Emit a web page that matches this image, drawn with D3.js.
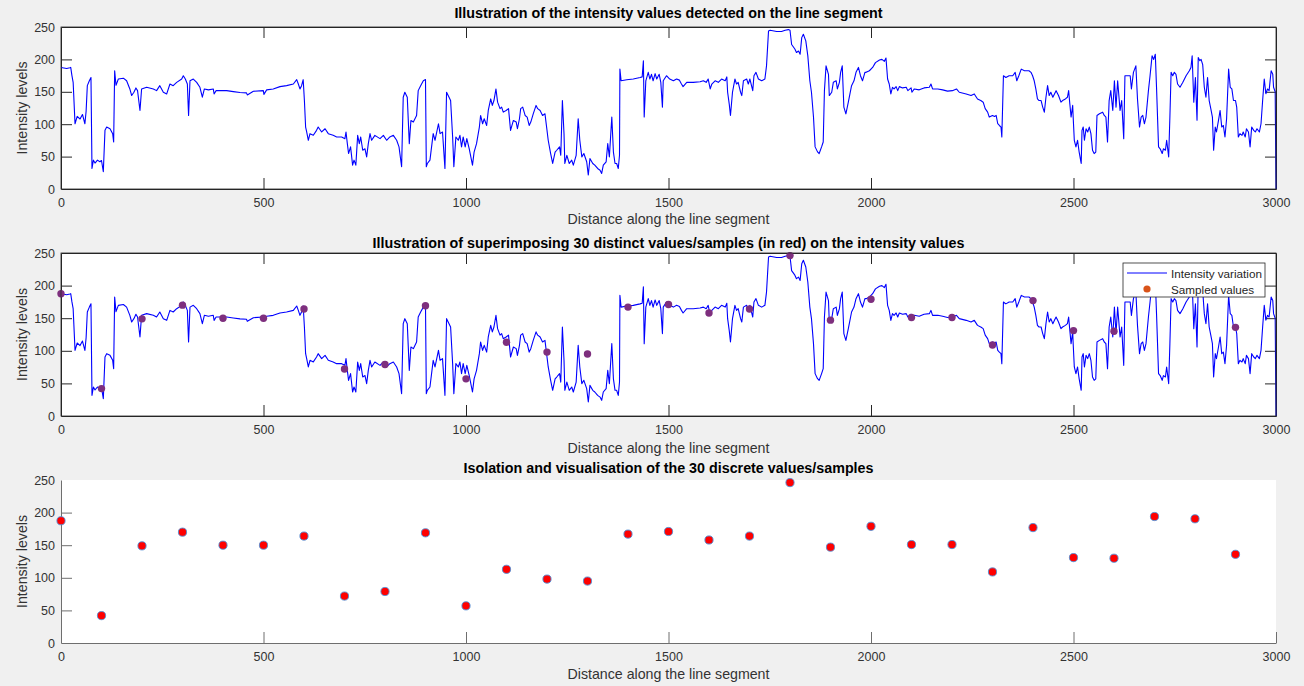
<!DOCTYPE html>
<html>
<head>
  <meta charset="utf-8">
  <title>Intensity along the line segment</title>
  <script src="https://d3js.org/d3.v7.min.js"></script>
  <style>
    body { margin: 0; background: #f0f0f0; }
    svg { display: block; font-family: "Liberation Sans", Arial, Helvetica, sans-serif; }
    .tick text { fill: #333; font-size: 12.5px; }
  </style>
</head>
<body>
<svg id="fig" width="1304" height="686"></svg>
<script>
  // chart text
  titles = [
    'Illustration of the intensity values detected on the line segment',
    'Illustration of superimposing 30 distinct values/samples (in red) on the intensity values',
    'Isolation and visualisation of the 30 discrete values/samples'
  ];
  xLabel = 'Distance along the line segment';
  yLabel = 'Intensity levels';
  legendLabels = ['Intensity variation', 'Sampled values'];
  xTicks = [0, 500, 1000, 1500, 2000, 2500, 3000];
  yTicks = [0, 50, 100, 150, 200, 250];

  // intensity profile: [distance, level]
  intensityTrace = [
    [0,187.6],[14,186],[22,187],[24,187.6],[27,175],[30,164.6],[34.6,100.7],[40,112],[47,108],[53,115],[59,100.7],[62,120],[65,159.5],[70,167],[74,172],
    [76.5,31.7],[80,44.5],[84,40],[90,44.5],[96,42],[100,44],[104.5,26.6],[108.6,90.5],[112.8,95.6],[121,93],[127.6,85.4],[130,72.6],[132.5,182.5],[135.8,160],
    [141.6,169.7],[154,171],[162,167],[170,154.4],[174.5,144.2],[180,149.3],[185,156],[189,151.8],[195,121.2],[199,154.4],[211.5,157],[228,154.4],[236,151.8],
    [244,159.5],[252.7,149.3],[261,146.7],[269,162],[277,159.5],[285.6,164.6],[298,169.7],[302,174.8],[307,169.7],[312,162],[315,113.5],[318.5,167],[326.7,169.7],
    [335,164.6],[343,157],[349,141.6],[354,154.4],[364,153],[376,154.4],[378,146.7],[383,151.8],[409,151.8],[425.5,150.3],[442,149],[458,148.3],[460,145.2],
    [475,150.8],[499.6,151.8],[501,146],[507.8,153],[524,154.4],[540.7,158],[557,159.5],[573.7,162],[582,168.7],[586,162],[590,154.4],[594,159.5],[598,168.7],
    [601,136.5],[604,95.6],[606.6,88],[610.7,75.2],[614.8,85.4],[623,83],[631,90.5],[635,95.6],[643.6,88],[652,93],[660,85.4],[672,82.8],[680.7,80.3],[693,80.3],
    [701,77.7],[703.7,88],[707,70],[710,54.7],[715,65],[720,36.8],[723.5,44.5],[728,36.8],[732.5,82.8],[736.6,70],[740,80.3],[745,59.8],[750.6,62],[754.7,49.6],
    [758.8,70],[763,85.4],[767,75.2],[775,82.8],[787.7,77.7],[796,82.8],[804,75.2],[812,80.3],[820.6,82.8],[828.8,75.2],[834.6,65],[841,34.3],[845,141.6],
    [849,149.3],[855,141.6],[860,70],[864,105.8],[870,103.3],[878,113.5],[882,151.8],[888,159.5],[894.6,167],[900,169],[902,34.3],[904.5,39.4],[911,44.5],
    [919,85.4],[923.5,75.2],[932,100.7],[936,85.4],[942,88],[948,31.7],[952,149.3],[956,144.2],[962,136.5],[967,80.3],[970,34.3],[975,80.3],[981,75.2],[985,82.8],
    [989,65],[993,80.3],[998,65],[1002,77.7],[1008,62],[1016,36.8],[1020,57],[1026,70],[1033,95.6],[1036,113.5],[1041,100.7],[1045,108.4],[1051,98],[1055,121.2],
    [1061,139],[1065,129],[1069,136.5],[1074,154.4],[1078,134],[1084,124],[1088,126.4],[1092,118.6],[1099,121.2],[1105,124],[1110,90.5],[1117,105.8],[1124,103.3],
    [1127,93],[1132,108.4],[1135,124],[1140,126.4],[1146,113.5],[1151,111],[1156,98],[1160,103.3],[1166,116],[1173,129],[1177,124],[1183,121.2],[1189,113.5],
    [1195,116],[1199,95.6],[1203,75.2],[1209,54.7],[1214,39.4],[1220,57],[1224,59.8],[1231,65],[1234,52],[1238,136.5],[1242,85.4],[1244,39.4],[1249,52],
    [1255,39.4],[1261,44.5],[1265,36.8],[1272,52],[1277,108.4],[1281,75.2],[1286,49.6],[1291,54.7],[1298,42],[1302,21.5],[1306,47],[1313,39.4],[1318,36.8],
    [1325,31.7],[1331,29],[1335,24],[1339,36.8],[1346,42],[1350,70],[1354,49.6],[1360,111],[1364,57],[1368,39.4],[1372,39.4],[1376,31.7],[1379,52],[1380,185],
    [1383,167],[1397,168.7],[1413,169.7],[1430,172],[1435,173],[1438,198],[1440,111],[1444,167],[1450,180],[1454,169.7],[1458,177],[1462,167],[1467,178],
    [1471,169.7],[1477,177],[1481,164.6],[1485,126.4],[1487,167],[1495,174.8],[1503,169.7],[1512,167],[1520,169.7],[1527,168],[1532,162],[1536,158],[1545,164.6],
    [1561,164.6],[1578,165.6],[1586,167],[1593,164.6],[1598,169.7],[1603,154.4],[1607,162],[1615,167],[1623,164.6],[1631,169.7],[1640,167],[1644,173],[1646,149.3],
    [1650,131],[1653,113.5],[1658,149.3],[1664,169.7],[1668,162],[1672,164.6],[1678,149.3],[1681,144.2],[1685,167],[1693,169.7],[1697,162],[1701,169.7],
    [1708,151.8],[1711,174.8],[1716,180],[1722,169.7],[1730,167],[1738,169.7],[1742,190],[1747,244],[1751,245],[1767,243],[1779,243],[1788,245],[1796,246],
    [1800,245],[1804,223],[1812,216],[1816,210.6],[1821,213],[1825,208],[1829,233.6],[1833,238.8],[1839,228.5],[1844,205.5],[1849,167],[1853,149.3],[1858,111],
    [1862,65],[1868,57.3],[1872,54.7],[1878,65],[1882,72.6],[1885,151.8],[1889,190],[1895,177],[1897,144.2],[1903,149.3],[1907,164.6],[1914,167],[1917,154.4],
    [1922,164.6],[1925,180],[1929,190],[1933,126.4],[1938,116],[1944,133.9],[1948,146.7],[1952,159.5],[1958,167],[1963,180],[1969,187.6],[1974,174.8],[1979,167],
    [1985,180],[1988,180],[1996,182.5],[2004,187.6],[2011,195],[2021,199],[2027,200],[2033,197],[2037,202],[2041,169.7],[2045,162],[2049,146.7],[2053,157],
    [2057,154.4],[2062,158],[2066,151.8],[2070,158],[2078,156],[2087,157],[2091,151.8],[2099,156],[2101,149.3],[2107,154.4],[2119,153],[2131,156],[2144,157],
    [2148,162],[2152,154.4],[2165,154.4],[2177,153],[2189,151],[2201,151.8],[2211,154.4],[2218,149.3],[2235,146.7],[2247,144.2],[2255,146.7],[2263,139],
    [2271,136.5],[2277,134],[2282,124],[2288,118.6],[2292,111],[2300,113.5],[2305,112],[2309,113.5],[2313,100.7],[2317,98],[2321,95.6],[2323,80.3],[2327,174.8],
    [2333,172],[2341,174.8],[2350,174.8],[2356,180],[2360,167],[2365,174.8],[2371,185],[2379,182.5],[2390,182.5],[2395,180],[2399,174.8],[2403,167],[2407,154.4],
    [2411,139],[2415,136.5],[2420,136.5],[2424,126.4],[2428,118.6],[2432,141.6],[2436,159.5],[2440,144.2],[2444,149.3],[2449,141.6],[2453,146.7],[2457,151.8],
    [2463,144.2],[2469,134],[2473,136.5],[2480,139],[2485,141.6],[2488,151.8],[2491,131],[2494,111],[2498,129],[2499,113.5],[2502,75.2],[2506,65],[2510,75.2],
    [2514,57],[2519,39.4],[2521,90.5],[2524,95.6],[2527,75.2],[2531,93],[2535,88],[2539,95.6],[2543,85.4],[2547,59.8],[2551,54.7],[2555,57],[2558,113.5],
    [2564,116],[2572,118.6],[2576,113.5],[2580,111],[2584,72.6],[2588,136.5],[2592,151.8],[2597,121.2],[2601,167],[2605,126.4],[2609,167],[2615,121.2],
    [2619,136.5],[2624,77.7],[2627,174.8],[2634,174.8],[2640,174.8],[2643,154.4],[2648,180],[2654,190],[2658,139],[2663,95.6],[2667,111],[2671,113.5],
    [2675,100.7],[2679,111],[2685,151.8],[2689,174.8],[2694,205.5],[2698,200],[2702,208],[2705,157],[2710,65],[2714,62],[2719,54.7],[2722,62],[2727,59.8],
    [2730,75.2],[2735,49.6],[2738,111],[2741,180],[2745,174.8],[2749,180],[2753,177],[2757,162],[2763,157],[2770,164.6],[2778,174.8],[2786,182.5],[2790,187.6],
    [2793,205.5],[2797,134],[2801,172],[2805,106],[2808,203],[2812,198],[2815,200],[2819,192],[2823,157],[2827,141.6],[2831,172],[2835,136.5],[2839,124],
    [2843,111],[2846,59.8],[2850,95.6],[2853,88],[2858,105.8],[2862,121.2],[2866,95.6],[2870,98],[2874,80.3],[2878,108.4],[2883,185],[2887,157],[2891,154.4],
    [2895,136.5],[2900,136.5],[2903,126.4],[2907,80.3],[2911,85.4],[2916,82.8],[2919,88],[2924,80.3],[2927,93],[2932,88],[2936,65],[2940,95.6],[2945,90.5],
    [2949,88],[2953,93],[2959,88],[2963,100.7],[2967,136.5],[2971,169.7],[2975,147],[2979,154.4],[2983,151.8],[2988,182.5],[2992,177],[2994,157],[2998,150],
    [3000,0]
  ];

  // the 30 samples, one every 100 units
  sampleDistance = [0,100,200,300,400,500,600,700,800,900,1000,1100,1200,1300,1400,1500,1600,1700,1800,1900,2000,2100,2200,2300,2400,2500,2600,2700,2800,2900];
  sampleLevel = [187.5,42,149,170,150,150,164,72,79,169,57,113,98,95,167,171,158,164,246,147,179,151,151,109,177,131,130,194,190.5,136];

  svg = d3.select('#fig');
  left = 61;
  right = 1276;
  panels = [
    { top: 27, bottom: 189, title: 18, label: 224 },
    { top: 253, bottom: 416, title: 248, label: 453 },
    { top: 480, bottom: 643, title: 473, label: 679 }
  ];
  x = d3.scaleLinear().domain([0, 3000]).range([left, right]);

  function yScaleFor(p) {
    return d3.scaleLinear().domain([0, 250]).range([p.bottom, p.top]);
  }

  function drawFrame(p, i, boxed) {
    y = yScaleFor(p);
    g = svg.append('g');
    g.append('rect')
      .attr('x', left).attr('y', p.top)
      .attr('width', right - left).attr('height', p.bottom - p.top)
      .attr('fill', 'white');

    axisColor = boxed ? '#262626' : '#6e6e6e';

    xa = g.append('g')
      .attr('transform', 'translate(0,' + p.bottom + ')')
      .call(d3.axisBottom(x).tickValues(xTicks).tickFormat(d3.format('d'))
        .tickSizeInner(-11).tickSizeOuter(0).tickPadding(9));
    ya = g.append('g')
      .attr('transform', 'translate(' + left + ',0)')
      .call(d3.axisLeft(y).tickValues(yTicks).tickFormat(d3.format('d'))
        .tickSizeInner(-11).tickSizeOuter(0).tickPadding(6));
    [xa, ya].forEach(function(a) {
      a.selectAll('line').attr('stroke', axisColor);
      a.select('.domain').attr('stroke', axisColor);
      a.selectAll('text').style('font-family', null);
    });
    xa.selectAll('.tick').filter(function(d) { return d == 0; }).select('line').remove();
    ya.selectAll('.tick').filter(function(d) { return d == 0 || d == 250; }).select('line').remove();

    if (boxed) {
      xt = g.append('g')
        .attr('transform', 'translate(0,' + p.top + ')')
        .call(d3.axisTop(x).tickValues(xTicks.filter(function(d) { return d > 0 && d < 3000; }))
          .tickSizeInner(-11).tickSizeOuter(0).tickFormat(''));
      yr = g.append('g')
        .attr('transform', 'translate(' + right + ',0)')
        .call(d3.axisRight(y).tickValues(yTicks.filter(function(d) { return d > 0 && d < 250; }))
          .tickSizeInner(-11).tickSizeOuter(0).tickFormat(''));
      [xt, yr].forEach(function(a) {
        a.selectAll('line').attr('stroke', axisColor);
        a.select('.domain').attr('stroke', axisColor);
      });
    }

    g.append('text')
      .attr('x', (left + right) / 2).attr('y', p.title)
      .attr('text-anchor', 'middle')
      .style('font-size', '14.3px').style('font-weight', 'bold').attr('fill', '#000')
      .text(titles[i]);
    g.append('text')
      .attr('x', (left + right) / 2).attr('y', p.label)
      .attr('text-anchor', 'middle')
      .style('font-size', '14.2px').attr('fill', '#333')
      .text(xLabel);
    g.append('text')
      .attr('transform', 'translate(27,' + ((p.top + p.bottom) / 2) + ') rotate(-90)')
      .attr('text-anchor', 'middle')
      .style('font-size', '14.2px').attr('fill', '#333')
      .text(yLabel);
    return y;
  }

  function drawTrace(p) {
    y = yScaleFor(p);
    line = d3.line().x(function(d) { return x(d[0]); }).y(function(d) { return y(d[1]); });
    svg.append('path')
      .datum(intensityTrace)
      .attr('d', line)
      .attr('fill', 'none')
      .attr('stroke', '#0000ff')
      .attr('stroke-width', 1.1)
      .attr('stroke-linejoin', 'round');
  }

  // panel 1
  drawFrame(panels[0], 0, true);
  drawTrace(panels[0]);

  // panel 2
  drawFrame(panels[1], 1, true);
  drawTrace(panels[1]);
  y2 = yScaleFor(panels[1]);
  svg.append('g').selectAll('circle')
    .data(sampleDistance)
    .enter()
    .append('circle')
    .attr('cx', function(d) { return x(d); })
    .attr('cy', function(d, i) { return y2(sampleLevel[i]); })
    .attr('r', 3.7)
    .attr('fill', '#7e2f7e');

  // legend
  lg = svg.append('g').attr('transform', 'translate(1123,263)');
  lg.append('rect')
    .attr('width', 142).attr('height', 34)
    .attr('fill', 'white').attr('stroke', '#262626').attr('stroke-width', 0.8);
  lg.append('line')
    .attr('x1', 4).attr('x2', 44).attr('y1', 10).attr('y2', 10)
    .attr('stroke', '#0000ff').attr('stroke-width', 1);
  lg.append('circle')
    .attr('cx', 24).attr('cy', 26).attr('r', 3.6).attr('fill', '#d95319');
  lg.selectAll('.lt')
    .data(legendLabels)
    .enter()
    .append('text')
    .attr('x', 48).attr('y', function(d, i) { return 14.5 + i * 16; })
    .style('font-size', '11.7px').attr('fill', '#262626')
    .text(function(d) { return d; });

  // panel 3
  drawFrame(panels[2], 2, false);
  y3 = yScaleFor(panels[2]);
  svg.append('g').selectAll('circle')
    .data(sampleDistance)
    .enter()
    .append('circle')
    .attr('cx', function(d) { return x(d); })
    .attr('cy', function(d, i) { return y3(sampleLevel[i]); })
    .attr('r', 4.1)
    .attr('fill', '#ff0000')
    .attr('stroke', '#4f8fd6')
    .attr('stroke-width', 0.9);

  // box outlines on top for the first two panels
  [panels[0], panels[1]].forEach(function(p) {
    svg.append('rect')
      .attr('x', left).attr('y', p.top)
      .attr('width', right - left).attr('height', p.bottom - p.top)
      .attr('fill', 'none').attr('stroke', '#262626').attr('stroke-width', 0.8);
  });
</script>
</body>
</html>
